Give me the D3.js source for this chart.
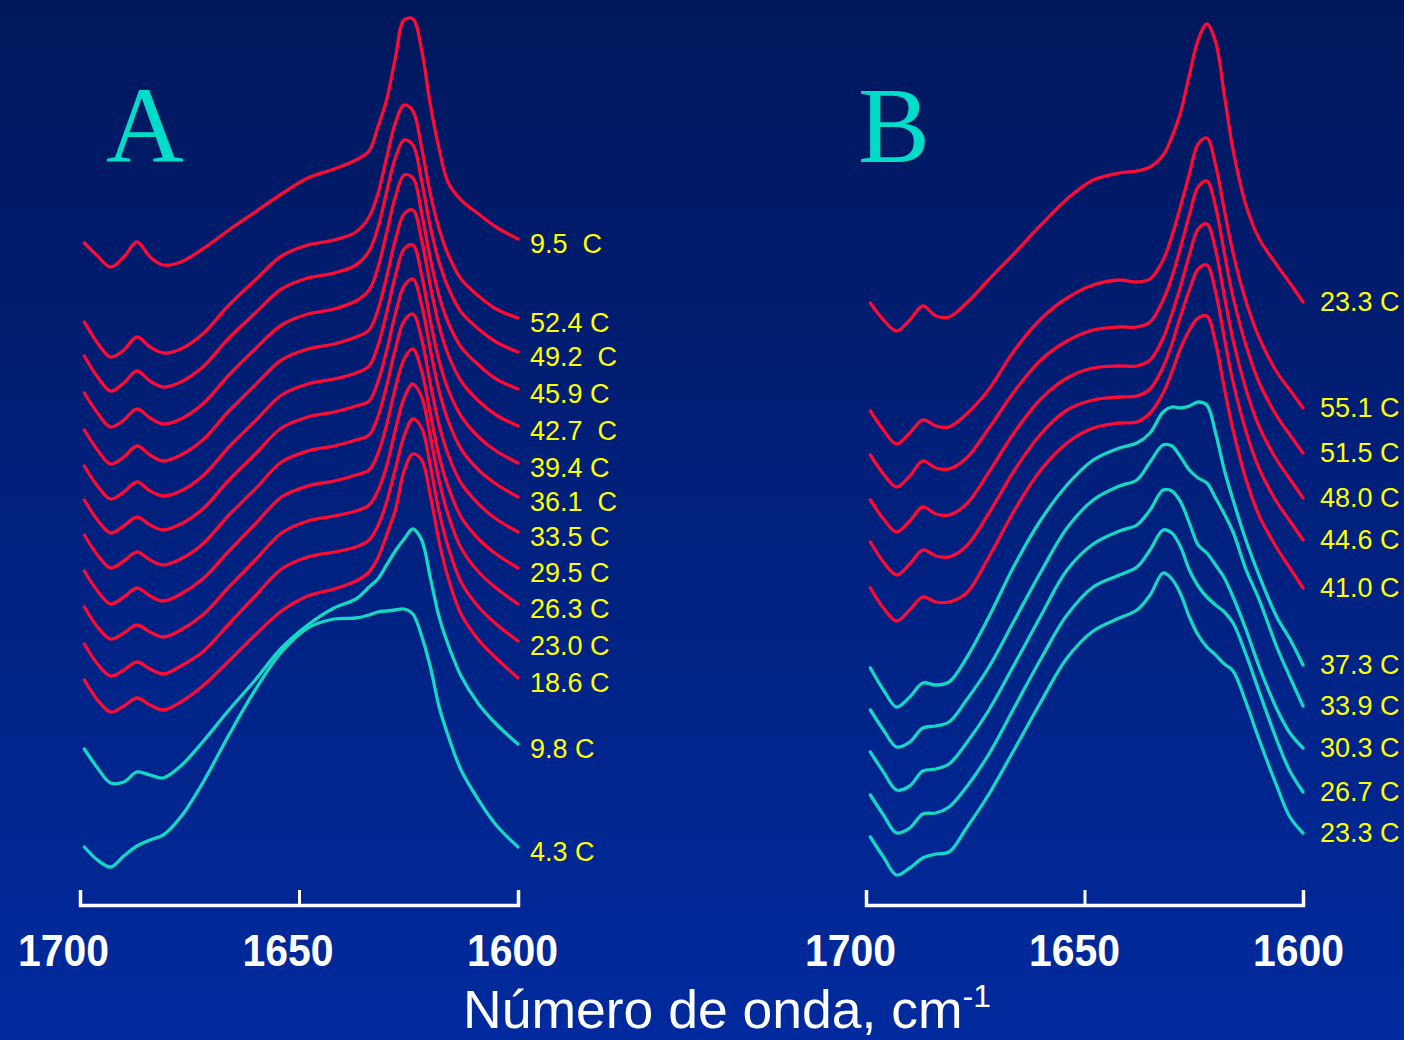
<!DOCTYPE html>
<html>
<head>
<meta charset="utf-8">
<script src="https://cdn.jsdelivr.net/npm/d3@7"></script>
<style>
html, body { margin: 0; padding: 0; background: #001c70; }
svg { display: block; }
.temp { font-family: Arial, 'Liberation Sans', sans-serif; font-size: 27px; fill: #ffff00; white-space: pre; }
.tick-label text { font-family: Arial, 'Liberation Sans', sans-serif; font-weight: bold; font-size: 44px; fill: #fff; }
</style>
</head>
<body>
<svg id="chart" width="1404" height="1040"></svg>
<script>
// wavenumber grids (cm-1) the spectra were read at
var wnA = [1699, 1696, 1693, 1690, 1687, 1684, 1681, 1677, 1672, 1666, 1660, 1654, 1648, 1642, 1637,
           1634, 1632, 1630, 1628, 1626, 1624, 1622, 1620, 1618, 1616, 1613, 1609, 1605, 1600];
var wnB = [1699, 1696, 1693, 1690, 1687, 1684, 1681, 1677, 1672, 1666, 1660, 1654, 1648, 1642, 1638,
           1635, 1632, 1630, 1628, 1626, 1624, 1622, 1620, 1618, 1616, 1613, 1610, 1606, 1603, 1600];

var ticks = [1700, 1650, 1600];

// panel A, top to bottom (absorbance, mOD, relative to 1699 cm-1)
var tempsA   = ['9.5  C', '52.4 C', '49.2  C', '45.9 C', '42.7  C', '39.4 C', '36.1  C', '33.5 C', '29.5 C', '26.3 C', '23.0 C', '18.6 C', '9.8 C', '4.3 C'];
var heatedA  = [1, 1, 1, 1, 1, 1, 1, 1, 1, 1, 1, 1, 0, 0];
var offsetsA = [664, 583, 549, 512, 475, 439, 405, 370, 334, 298, 261, 225, 158, 58];

var a_9_5  = [-2, -15, -26, -16, -1, -16, -24, -21, -8, 11, 29, 47, 63, 72, 81, 90, 114, 141, 183, 221, 222, 191, 136, 92, 59, 41, 27, 14, 2];
var a_52_4 = [0, -21, -35, -28, -15, -25, -31, -27, -12, 17, 42, 66, 77, 82, 90, 105, 128, 164, 199, 217, 211, 174, 128, 93, 68, 43, 26, 13, 4];
var a_49_2 = [0, -21, -35, -27, -15, -25, -31, -26, -11, 18, 43, 67, 78, 83, 91, 105, 128, 164, 198, 216, 211, 175, 129, 94, 69, 44, 27, 14, 4];
var a_45_9 = [0, -20, -34, -27, -16, -25, -31, -26, -11, 18, 44, 68, 79, 84, 92, 103, 125, 160, 196, 218, 215, 180, 134, 97, 71, 46, 28, 14, 4];
var a_42_7 = [0, -20, -34, -27, -16, -25, -31, -25, -10, 19, 45, 70, 81, 86, 93, 100, 120, 153, 190, 216, 220, 190, 144, 104, 76, 49, 29, 15, 4];
var a_39_4 = [0, -20, -33, -26, -16, -25, -30, -25, -10, 19, 45, 71, 82, 87, 93, 100, 120, 153, 190, 217, 221, 191, 145, 105, 77, 50, 29, 15, 3];
var a_36_1 = [0, -20, -33, -26, -17, -25, -30, -24, -9, 20, 46, 72, 83, 88, 94, 99, 118, 149, 186, 214, 221, 195, 150, 109, 80, 51, 30, 16, 3];
var a_33_5 = [0, -20, -33, -26, -17, -25, -30, -24, -9, 20, 46, 73, 84, 89, 95, 100, 118, 149, 186, 214, 221, 196, 151, 110, 81, 52, 31, 16, 3];
var a_29_5 = [0, -20, -33, -26, -17, -25, -30, -23, -8, 20, 47, 74, 85, 90, 96, 101, 117, 146, 183, 212, 222, 200, 157, 115, 85, 54, 32, 17, 3];
var a_26_3 = [0, -20, -32, -26, -18, -25, -30, -23, -8, 20, 47, 74, 86, 91, 96, 102, 116, 141, 177, 209, 223, 210, 170, 126, 93, 59, 35, 19, 3];
var a_23_0 = [0, -20, -32, -26, -18, -25, -30, -22, -8, 20, 48, 75, 87, 92, 97, 104, 118, 142, 175, 208, 225, 216, 178, 132, 98, 62, 37, 20, 3];
var a_18_6 = [0, -20, -32, -26, -18, -25, -30, -22, -6, 19, 45, 69, 84, 91, 99, 108, 122, 145, 170, 209, 226, 220, 184, 138, 103, 66, 40, 22, 2];
var a_9_8  = [-2, -21, -36, -35, -25, -28, -31, -19, 5, 37, 67, 99, 122, 139, 148, 160, 168, 182, 196, 208, 218, 207, 169, 130, 103, 71, 43, 23, 3];
var a_4_3  = [0, -13, -20, -9, 1, 7, 12, 30, 64, 112, 157, 195, 219, 228, 229, 232, 235, 236, 237, 238, 233, 211, 180, 140, 112, 77, 47, 22, 0];

// panel B, top to bottom
var tempsB   = ['23.3 C', '55.1 C', '51.5 C', '48.0 C', '44.6 C', '41.0 C', '37.3 C', '33.9 C', '30.3 C', '26.7 C', '23.3 C'];
var heatedB  = [1, 1, 1, 1, 1, 1, 0, 0, 0, 0, 0];
var offsetsB = [603, 495, 450, 405, 363, 317, 238, 197, 155, 112, 70];

var b_23_3r = [-1, -18, -29, -18, -4, -14, -15, -1, 22, 49, 77, 103, 122, 129, 131, 135, 147, 165, 190, 227, 262, 278, 260, 207, 152, 96, 63, 37, 19, 0];
var b_55_1  = [-1, -20, -34, -23, -10, -16, -17, -4, 20, 60, 91, 112, 125, 130, 128, 131, 150, 174, 204, 236, 266, 272, 245, 200, 157, 108, 72, 38, 20, 2];
var b_51_5  = [0, -19, -32, -21, -6, -13, -14, -3, 26, 64, 95, 114, 125, 128, 128, 133, 155, 178, 208, 240, 268, 274, 248, 202, 158, 109, 72, 39, 20, 2];
var b_48_0  = [0, -19, -32, -21, -7, -14, -15, -4, 27, 68, 101, 122, 132, 134, 134, 140, 162, 186, 214, 245, 271, 276, 250, 204, 160, 110, 73, 40, 21, 2];
var b_44_6  = [0, -20, -33, -22, -8, -14, -15, -4, 28, 72, 108, 132, 142, 145, 146, 153, 175, 198, 226, 252, 273, 277, 250, 204, 160, 110, 73, 40, 21, 2];
var b_41_0  = [0, -20, -33, -22, -9, -14, -14, -5, 30, 78, 118, 145, 160, 165, 166, 175, 195, 216, 240, 258, 270, 272, 245, 200, 158, 108, 72, 40, 20, 0];
var b_37_3  = [-1, -23, -40, -30, -16, -18, -15, 9, 49, 102, 147, 182, 207, 219, 224, 234, 255, 260, 259, 261, 265, 262, 234, 197, 167, 126, 91, 50, 28, 2];
var b_33_9  = [-2, -22, -39, -34, -20, -18, -14, 8, 40, 88, 136, 180, 208, 222, 228, 246, 263, 262, 251, 238, 230, 225, 210, 194, 176, 138, 108, 61, 31, 2];
var b_30_3  = [-2, -22, -40, -36, -21, -19, -14, 7, 39, 86, 134, 180, 206, 219, 225, 240, 260, 259, 248, 227, 205, 197, 185, 172, 153, 120, 83, 41, 17, 2];
var b_26_7  = [-2, -22, -40, -35, -21, -20, -14, 6, 38, 86, 134, 178, 206, 218, 226, 243, 263, 260, 246, 223, 207, 196, 188, 181, 170, 138, 101, 53, 22, 1];
var b_23_3c = [-2, -22, -40, -33, -23, -19, -17, 7, 40, 86, 133, 177, 204, 217, 225, 240, 262, 256, 241, 218, 200, 188, 180, 171, 164, 132, 95, 49, 18, 2];

var spectraA = [a_9_5, a_52_4, a_49_2, a_45_9, a_42_7, a_39_4, a_36_1, a_33_5, a_29_5, a_26_3, a_23_0, a_18_6, a_9_8, a_4_3];
var spectraB = [b_23_3r, b_55_1, b_51_5, b_48_0, b_44_6, b_41_0, b_37_3, b_33_9, b_30_3, b_26_7, b_23_3c];

var red = '#ff0a33',
    cyan = '#14d8c4';

var svg = d3.select('#chart');
var width = 1404,
    height = 1040;

var defs = svg.append('defs');
var grad = defs.append('linearGradient')
	.attr('id', 'bg')
	.attr('x1', 0).attr('y1', 0)
	.attr('x2', 0).attr('y2', 1);
grad.append('stop').attr('offset', '0%').attr('stop-color', '#00175c');
grad.append('stop').attr('offset', '100%').attr('stop-color', '#002a9e');

svg.append('rect')
	.attr('width', width)
	.attr('height', height)
	.attr('fill', 'url(#bg)');

var y = d3.scaleLinear().domain([0, 900]).range([905, 5]);

var panel = function(opt) {
	var x = d3.scaleLinear().domain([1700, 1600]).range(opt.range);
	var g = svg.append('g');

	var line = d3.line()
		.x(d => x(d[0]))
		.y(d => y(d[1]))
		.curve(d3.curveCatmullRom.alpha(0.5));

	var rows = opt.spectra.map((s, i) => ({
		label: opt.temps[i],
		heated: opt.heated[i],
		pts: s.map((v, j) => [opt.wn[j], v + opt.offsets[i]])
	}));

	// cyan (initial) under red (heated)
	var order = rows.filter(d => !d.heated).concat(rows.filter(d => d.heated));

	g.selectAll('path.spec')
		.data(order)
		.enter()
		.append('path')
		.attr('class', 'spec')
		.attr('d', d => line(d.pts))
		.attr('fill', 'none')
		.attr('stroke', d => d.heated ? red : cyan)
		.attr('stroke-width', 3.3)
		.attr('stroke-linejoin', 'round')
		.attr('stroke-linecap', 'round');

	g.selectAll('text.temp')
		.data(rows)
		.enter()
		.append('text')
		.attr('class', 'temp')
		.attr('x', opt.range[1] + opt.labelGap)
		.attr('y', d => y(d.pts[d.pts.length - 1][1]) + opt.labelDy)
		.attr('dy', '0.35em')
		.text(d => d.label);

	// bracket axis: outer ticks + domain line, ticks pointing up
	var axis = d3.axisTop(x)
		.tickValues(ticks)
		.tickSizeInner(15)
		.tickSizeOuter(15)
		.tickFormat('');

	var ag = g.append('g')
		.attr('transform', 'translate(0,905)')
		.call(axis);
	ag.select('.domain').attr('stroke', '#fff').attr('stroke-width', 3.5).attr('fill', 'none');
	ag.selectAll('.tick line').attr('stroke', '#fff').attr('stroke-width', 3);

	// tick labels sit a little left of their ticks in the original
	var xl = d3.scaleLinear().domain([1700, 1600]).range(opt.labelRange);
	var lg = g.append('g')
		.attr('class', 'tick-label')
		.attr('transform', 'translate(0,935)')
		.call(d3.axisBottom(xl).tickValues(ticks).tickSize(0).tickPadding(0).tickFormat(d3.format('d')));
	lg.select('.domain').remove();
	lg.selectAll('text')
		.attr('dy', '0.71em')
		.attr('font-size', null)
		.attr('font-family', null)
		.attr('fill', null)
		.attr('textLength', 91)
		.attr('lengthAdjust', 'spacingAndGlyphs');

	svg.append('text')
		.attr('x', opt.letterX)
		.attr('y', 162)
		.attr('font-family', "'Times New Roman', 'Liberation Serif', serif")
		.attr('font-size', 108)
		.attr('fill', '#00dcc8')
		.text(opt.letter);
};

panel({
	range: [80, 518], labelRange: [63, 512], wn: wnA,
	spectra: spectraA, temps: tempsA, heated: heatedA, offsets: offsetsA,
	labelGap: 12, labelDy: 5, letter: 'A', letterX: 106
});

panel({
	range: [866, 1303], labelRange: [850, 1298], wn: wnB,
	spectra: spectraB, temps: tempsB, heated: heatedB, offsets: offsetsB,
	labelGap: 17, labelDy: 0, letter: 'B', letterX: 858
});

var title = svg.append('text')
	.attr('x', 463)
	.attr('y', 1028)
	.attr('font-family', "Arial, 'Liberation Sans', sans-serif")
	.attr('font-size', 53.5)
	.attr('fill', '#fff');
title.append('tspan').text('Número de onda, cm');
title.append('tspan')
	.attr('font-size', 32)
	.attr('dy', -21)
	.text('-1');
</script>
</body>
</html>
